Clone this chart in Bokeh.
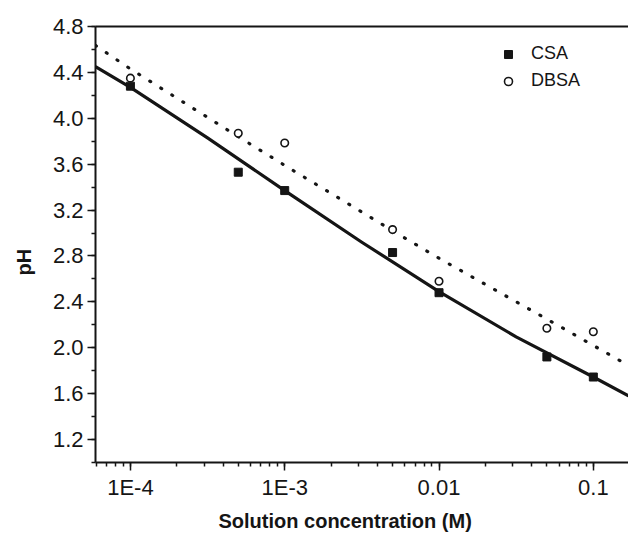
from bokeh.plotting import figure
from bokeh.models import (Range1d, LogTicker, SingleIntervalTicker, PrintfTickFormatter,
                          CustomJSTickFormatter, LinearAxis, FixedTicker, Legend,
                          LegendItem, Title)
from bokeh.embed import file_html
from bokeh.resources import INLINE

# ---- data ----
conc = [1e-4, 5e-4, 1e-3, 5e-3, 1e-2, 5e-2, 1e-1]
ph_csa = [4.28, 3.53, 3.37, 2.83, 2.48, 1.92, 1.745]
ph_dbsa = [4.35, 3.87, 3.785, 3.03, 2.58, 2.17, 2.14]

fit_csa_x = [5.94e-5, 1e-4, 3.16e-4, 1e-3, 3.16e-3, 1e-2, 3.16e-2, 1e-1, 0.169]
fit_csa_y = [4.45, 4.27, 3.83, 3.37, 2.92, 2.49, 2.095, 1.745, 1.58]
fit_dbsa_x = [5.94e-5, 1e-4, 5e-4, 1e-3, 5e-3, 1e-2, 5e-2, 1e-1, 0.169]
fit_dbsa_y = [4.635, 4.43, 3.84, 3.59, 3.02, 2.78, 2.25, 2.02, 1.846]

x_limits = (5.94e-5, 0.169)
y_limits = (1.0, 4.80001)
y_tick_step = 0.4
series_names = ["CSA", "DBSA"]
x_title = "Solution concentration (M)"
y_title = "pH"

FONT = "Liberation Sans"
INK = "#151515"

p = figure(width=628, height=541, x_axis_type="log",
           x_range=Range1d(*x_limits), y_range=Range1d(*y_limits),
           output_backend="svg", toolbar_location=None,
           min_border_left=94, min_border_right=0, min_border_top=26,
           min_border_bottom=79)
p.outline_line_color = None
p.grid.visible = False
p.background_fill_color = "white"
p.border_fill_color = "white"

# fit lines
p.line(fit_dbsa_x, fit_dbsa_y, line_color=INK, line_width=3.2,
       line_dash="1 12", line_cap="round")
p.line(fit_csa_x, fit_csa_y, line_color=INK, line_width=3.2, line_join="round")

# data points
sq = p.scatter(conc, ph_csa, marker="square", size=8, fill_color=INK, line_color=INK,
               line_width=1)
ci = p.scatter(conc, ph_dbsa, marker="circle", size=7.5, fill_color="white",
               line_color=INK, line_width=1.6)

# x axis
xa = p.xaxis[0]
xa.ticker = LogTicker(num_minor_ticks=10)
xa.formatter = CustomJSTickFormatter(code="""
const e = Math.round(Math.log10(tick));
if (e <= -3) { return "1E" + e; }
return Math.pow(10, e).toFixed(Math.max(0, -e));
""")

# y axis
ya = p.yaxis[0]
ya.ticker = SingleIntervalTicker(interval=y_tick_step, num_minor_ticks=2)
ya.formatter = PrintfTickFormatter(format="%.1f")

for ax in (xa, ya):
    ax.axis_line_width = 2
    ax.axis_line_color = INK
    ax.major_tick_line_color = INK
    ax.major_tick_line_width = 1.5
    ax.minor_tick_line_color = INK
    ax.minor_tick_line_width = 1.5
    ax.major_tick_in = 0
    ax.major_tick_out = 8
    ax.minor_tick_in = 0
    ax.minor_tick_out = 4
    ax.major_label_text_font = FONT
    ax.major_label_text_font_size = "22px"
    ax.major_label_text_color = INK
    ax.major_label_standoff = 4

# top border line
top = LinearAxis(ticker=FixedTicker(ticks=[1e-3]), axis_line_width=2,
                 axis_line_color=INK, major_tick_line_color=None,
                 minor_tick_line_color=None, major_label_text_font_size="0px",
                 major_label_text_alpha=0)
p.add_layout(top, "above")

# axis titles
p.add_layout(Title(text=y_title, align="left", offset=187, standoff=25,
                   vertical_align="top",
                   text_font=FONT, text_font_size="20px", text_font_style="bold",
                   text_color=INK), "left")
p.add_layout(Title(text=x_title, align="left", offset=123, standoff=15,
                   vertical_align="top",
                   text_font=FONT, text_font_size="20px", text_font_style="bold",
                   text_color=INK), "below")

# legend
legend = Legend(items=[LegendItem(label=series_names[0], renderers=[sq]),
                       LegendItem(label=series_names[1], renderers=[ci])],
                location=(403, 371), glyph_width=20, glyph_height=20,
                label_standoff=13, padding=0, spacing=6, margin=0,
                border_line_color=None, background_fill_alpha=0,
                label_text_font=FONT, label_text_font_size="18px",
                label_text_color=INK)
p.add_layout(legend)

open("out.html", "w").write(file_html(p, INLINE))
